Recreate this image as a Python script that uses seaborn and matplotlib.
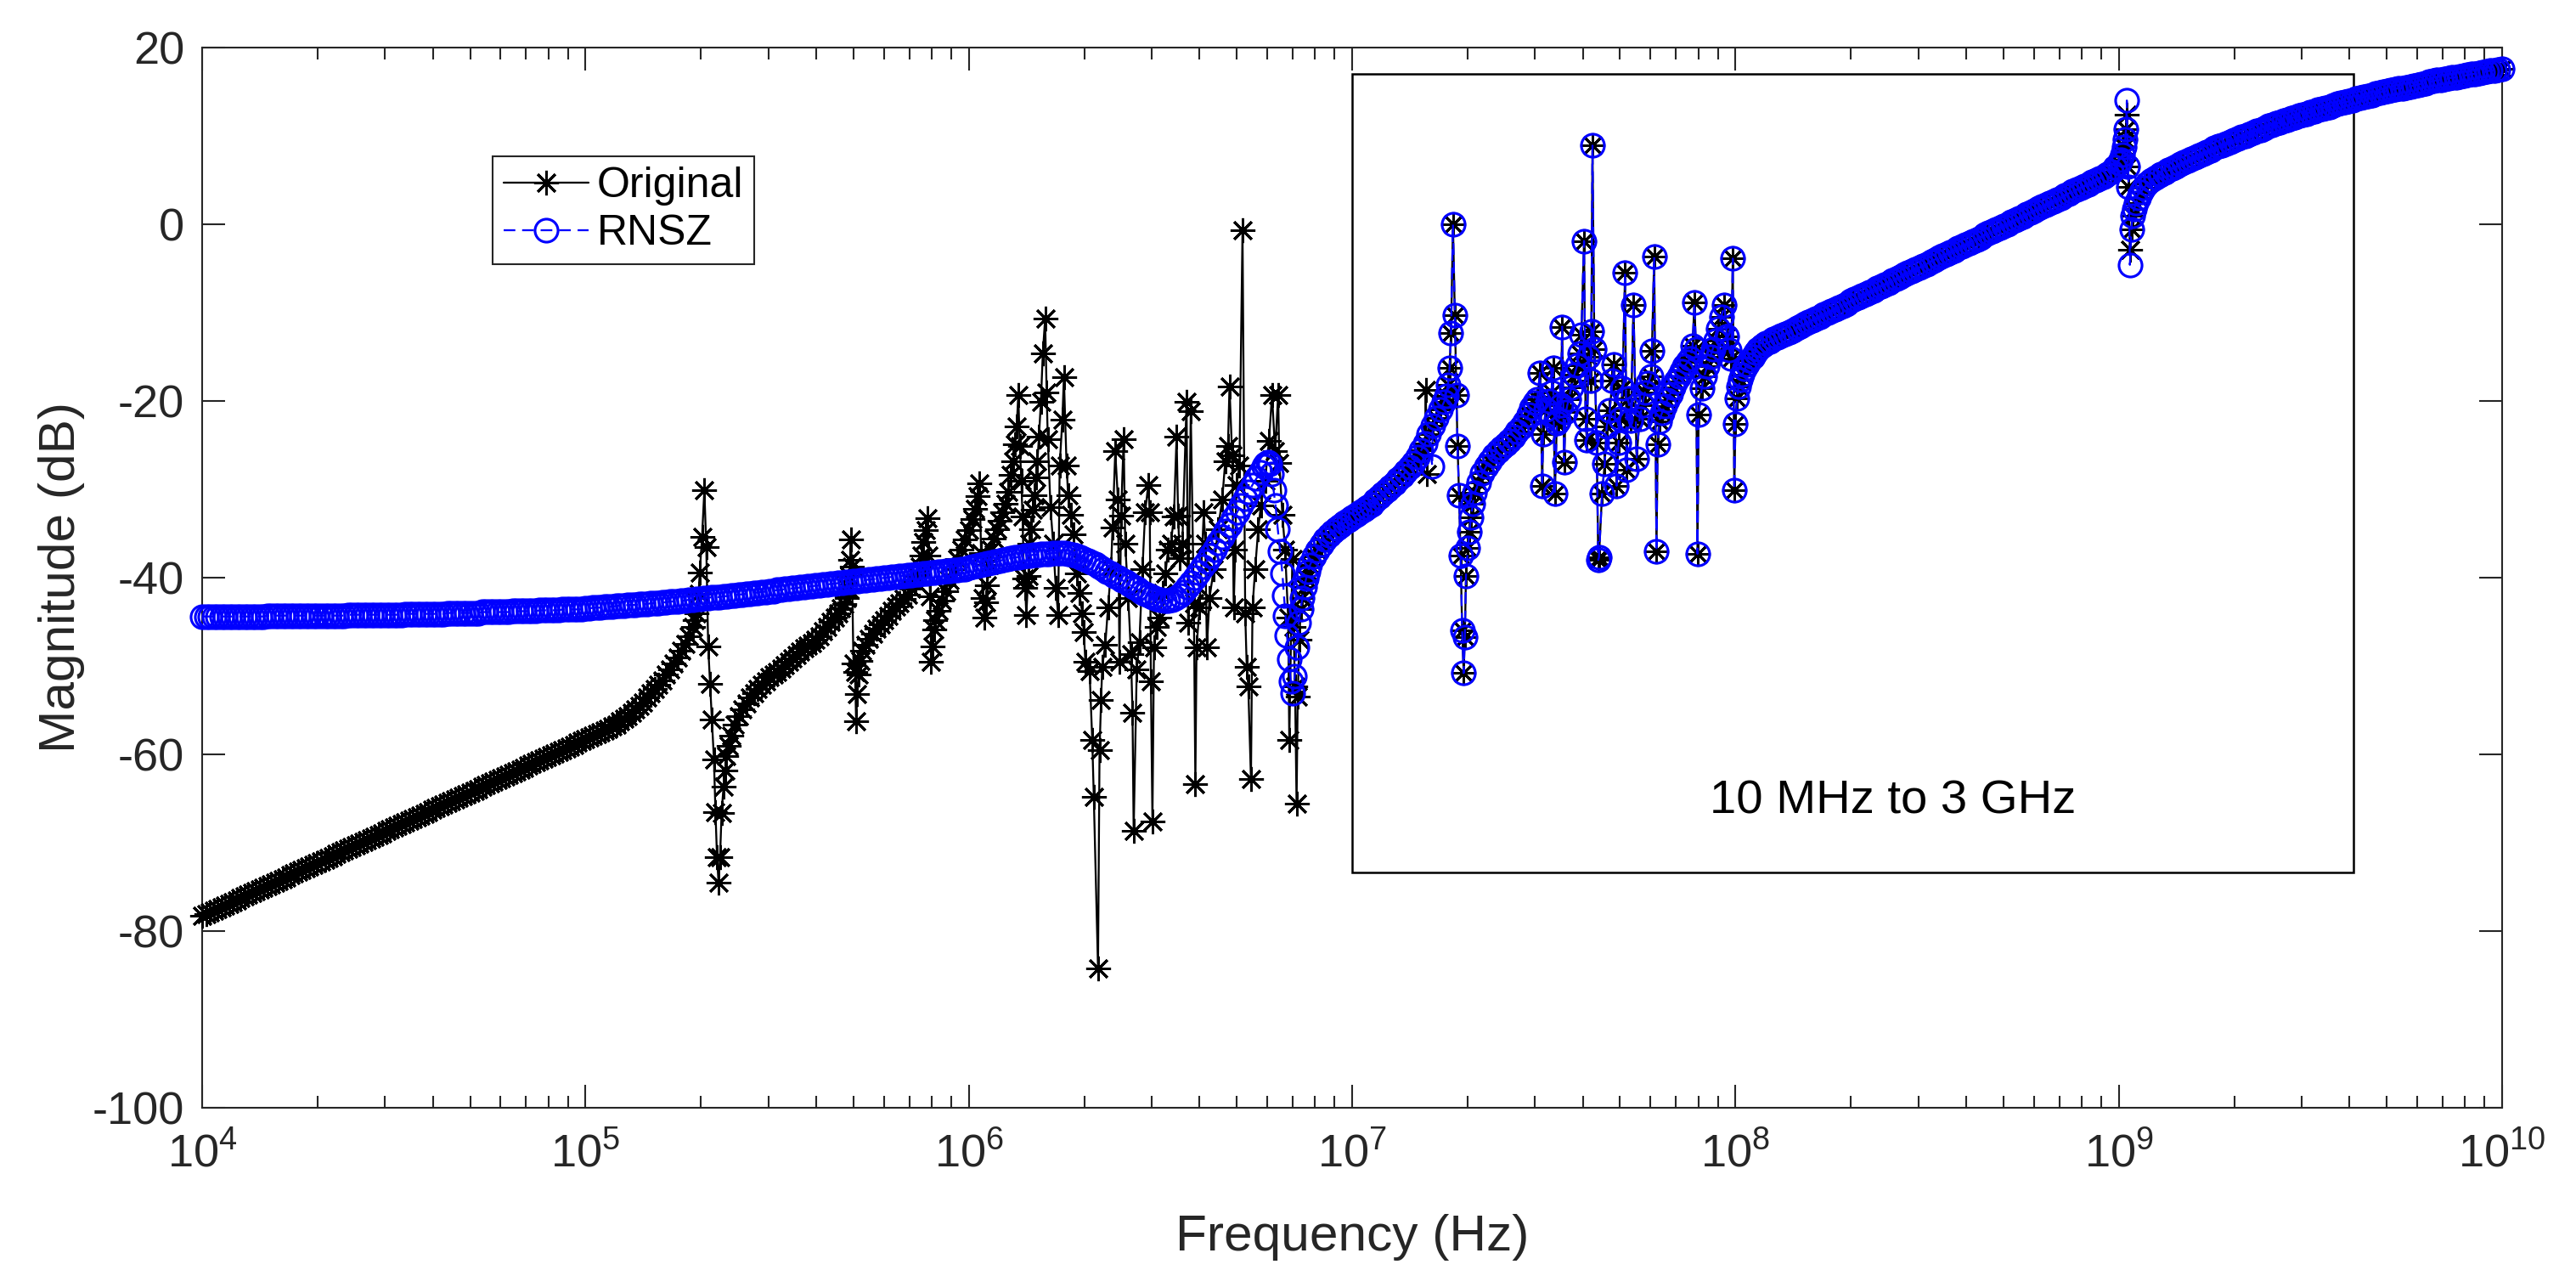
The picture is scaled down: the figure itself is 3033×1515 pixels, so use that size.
import numpy as np
import pandas as pd
import matplotlib
matplotlib.use("Agg")
import matplotlib.pyplot as plt
import seaborn as sns
from matplotlib.patches import Rectangle
from matplotlib.lines import Line2D

# ---------------- data: (log10 frequency [Hz], magnitude [dB]) ----------------
original_lowband = [
    (4.00,-78.3),(4.01,-78.1),(4.02,-77.9),(4.03,-77.7),(4.04,-77.5),(4.05,-77.3),(4.06,-77.1),(4.07,-76.9),(4.08,-76.7),(4.09,-76.5),
    (4.10,-76.3),(4.11,-76.1),(4.12,-75.9),(4.13,-75.7),(4.14,-75.5),(4.15,-75.3),(4.16,-75.1),(4.17,-74.9),(4.18,-74.7),(4.19,-74.5),
    (4.20,-74.3),(4.21,-74.1),(4.22,-73.9),(4.23,-73.7),(4.24,-73.5),(4.25,-73.3),(4.26,-73.1),(4.27,-72.9),(4.28,-72.7),(4.29,-72.5),
    (4.30,-72.3),(4.31,-72.1),(4.32,-71.9),(4.33,-71.7),(4.34,-71.5),(4.35,-71.3),(4.36,-71.1),(4.37,-70.9),(4.38,-70.7),(4.39,-70.5),
    (4.40,-70.3),(4.41,-70.1),(4.42,-69.9),(4.43,-69.7),(4.44,-69.5),(4.45,-69.3),(4.46,-69.1),(4.47,-68.9),(4.48,-68.7),(4.49,-68.5),
    (4.50,-68.3),(4.51,-68.1),(4.52,-67.9),(4.53,-67.7),(4.54,-67.5),(4.55,-67.3),(4.56,-67.1),(4.57,-66.9),(4.58,-66.7),(4.59,-66.5),
    (4.60,-66.3),(4.61,-66.1),(4.62,-65.9),(4.63,-65.7),(4.64,-65.5),(4.65,-65.3),(4.66,-65.1),(4.67,-64.9),(4.68,-64.7),(4.69,-64.5),
    (4.70,-64.3),(4.71,-64.1),(4.72,-63.9),(4.73,-63.7),(4.74,-63.5),(4.75,-63.3),(4.76,-63.1),(4.77,-62.9),(4.78,-62.7),(4.79,-62.5),
    (4.80,-62.3),(4.81,-62.1),(4.82,-61.9),(4.83,-61.7),(4.84,-61.5),(4.85,-61.3),(4.86,-61.1),(4.87,-60.9),(4.88,-60.7),(4.89,-60.5),
    (4.90,-60.3),(4.91,-60.1),(4.92,-59.9),(4.93,-59.7),(4.94,-59.5),(4.95,-59.3),(4.96,-59.1),(4.97,-58.9),(4.98,-58.7),(4.99,-58.5),
    (5.00,-58.3),(5.01,-58.1),(5.02,-57.9),(5.03,-57.7),(5.04,-57.5),(5.05,-57.3),(5.06,-57.1),(5.07,-56.8),(5.08,-56.6),(5.09,-56.3),
    (5.10,-56.0),(5.11,-55.7),(5.12,-55.3),(5.13,-54.9),(5.14,-54.5),(5.15,-54.1),(5.16,-53.6),(5.17,-53.1),(5.18,-52.6),(5.19,-52.1),
    (5.20,-51.6),(5.21,-51.0),(5.22,-50.4),(5.23,-49.7),(5.24,-49.0),(5.25,-48.3),(5.26,-47.5),(5.27,-46.6),(5.28,-45.6),(5.285,-44.8),
    (5.29,-44.0),(5.295,-41.8),(5.298,-39.4),(5.304,-35.4),(5.310,-30.1),(5.315,-36.5),(5.320,-47.8),(5.325,-52.0),(5.330,-56.1),(5.335,-60.6),
    (5.339,-66.5),(5.343,-71.6),(5.347,-74.5),(5.351,-71.6),(5.355,-66.6),(5.360,-63.7),(5.364,-61.8),(5.368,-60.2),(5.373,-59.0),(5.38,-57.9),
    (5.39,-56.6),(5.40,-55.7),(5.41,-54.9),(5.42,-54.2),(5.43,-53.6),(5.44,-53.1),(5.45,-52.6),(5.46,-52.1),(5.47,-51.7),(5.48,-51.3),
    (5.49,-51.0),(5.50,-50.7),(5.51,-50.3),(5.52,-49.9),(5.53,-49.5),(5.54,-49.1),(5.55,-48.8),(5.56,-48.4),(5.57,-48.0),(5.58,-47.7),
    (5.59,-47.4),(5.60,-47.0),(5.61,-46.6),(5.62,-46.1),(5.63,-45.6),(5.64,-45.0),(5.65,-44.5),(5.66,-44.0),(5.667,-43.5),(5.674,-43.0),
    (5.681,-42.3),(5.685,-41.3),(5.688,-39.8),(5.690,-38.0),(5.692,-35.7),(5.695,-38.8),(5.699,-49.7),(5.703,-50.7),(5.706,-56.3),(5.709,-53.2),
    (5.712,-51.0),(5.716,-49.4),(5.722,-48.3),(5.73,-47.6),(5.74,-46.9),(5.75,-46.4),(5.76,-45.8),(5.77,-45.3),(5.78,-44.8),(5.79,-44.3),
    (5.80,-43.8),(5.81,-43.3),(5.82,-42.9),(5.83,-42.4),(5.84,-41.9),(5.85,-41.3),(5.86,-40.5),(5.866,-39.8),(5.872,-38.8),(5.877,-37.5),
    (5.882,-36.0),(5.887,-34.6),(5.891,-33.3),(5.895,-37.5),(5.899,-42.1),(5.902,-49.5),(5.906,-47.8),(5.909,-45.9),(5.913,-44.8),(5.92,-43.8),
    (5.93,-42.6),(5.94,-41.5),(5.95,-40.3),(5.96,-39.0),(5.97,-37.9),(5.98,-36.8),(5.99,-35.7),(6.00,-34.6),(6.01,-33.4),(6.017,-32.2),
    (6.023,-30.8),(6.028,-29.3),(6.032,-37.2),(6.036,-42.3),(6.040,-44.5),(6.044,-42.8),(6.048,-40.9),(6.053,-38.6),(6.058,-36.8),(6.065,-35.6),
    (6.073,-34.5),(6.080,-33.6),(6.088,-32.6),(6.095,-31.6),(6.103,-30.3),(6.110,-28.4),(6.115,-26.8),(6.120,-24.9),(6.125,-22.9),(6.129,-19.3),
    (6.133,-25.1),(6.137,-29.0),(6.140,-33.1),(6.144,-40.1),(6.147,-41.2),(6.150,-44.2),(6.155,-39.8),(6.159,-36.2),(6.163,-34.5),(6.167,-32.3),
    (6.171,-30.7),(6.175,-28.7),(6.179,-26.8),(6.183,-24.0),(6.188,-20.1),(6.193,-14.6),(6.199,-10.7),(6.203,-19.0),(6.206,-24.3),(6.213,-32.0),
    (6.220,-36.2),(6.227,-41.2),(6.233,-44.2),(6.237,-27.3),(6.244,-22.1),(6.248,-17.3),(6.255,-27.3),(6.259,-30.7),(6.266,-32.9),(6.273,-35.1),
    (6.281,-39.5),(6.288,-41.7),(6.296,-44.0),(6.300,-46.2),(6.304,-49.5),(6.315,-50.6),(6.322,-58.4),(6.326,-64.8),(6.337,-84.2),(6.341,-59.5),
    (6.345,-53.9),(6.348,-50.1),(6.356,-47.6),(6.363,-43.4),(6.371,-39.0),(6.375,-34.3),(6.382,-25.7),(6.389,-31.2),(6.393,-49.5),(6.397,-33.0),
    (6.404,-24.3),(6.408,-36.2),(6.416,-42.3),(6.423,-48.7),(6.427,-55.3),(6.430,-68.7),(6.438,-50.4),(6.445,-47.3),(6.453,-39.0),(6.460,-32.6),
    (6.468,-29.5),(6.472,-32.6),(6.475,-51.7),(6.479,-67.6),(6.483,-47.9),(6.490,-45.6),(6.498,-44.5),(6.505,-41.7),(6.513,-39.5),(6.520,-36.8),
    (6.527,-36.2),(6.535,-33.1),(6.542,-24.0),(6.546,-33.0),(6.550,-37.8),(6.557,-36.2),(6.568,-20.1),(6.572,-45.1),(6.579,-21.2),(6.587,-42.9),
    (6.591,-63.4),(6.594,-47.9),(6.602,-43.4),(6.613,-32.6),(6.617,-36.2),(6.621,-47.9),(6.628,-42.3),(6.639,-39.0),(6.650,-34.5),(6.661,-31.2),
    (6.669,-26.8),(6.676,-25.1),(6.680,-18.4),(6.687,-26.2),(6.691,-43.4),(6.695,-36.8),(6.698,-29.5),(6.706,-27.3),(6.714,-0.7),(6.721,-44.0),
    (6.725,-50.1),(6.729,-52.3),(6.736,-62.8),(6.740,-43.4),(6.747,-39.0),(6.755,-34.5),(6.762,-31.8),(6.773,-29.0),(6.783,-24.5),(6.791,-19.3),
    (6.799,-25.7),(6.807,-19.3),(6.810,-27.0),(6.818,-32.9),(6.825,-36.8),(6.833,-44.5),(6.836,-58.4),(6.844,-37.9),(6.847,-45.6),(6.851,-52.3),
    (6.855,-65.6),(6.858,-53.5),(6.862,-47.0),
]

rnsz_lowband = [
    (4.00,-44.4),(4.01,-44.4),(4.02,-44.4),(4.03,-44.4),(4.04,-44.4),(4.05,-44.4),(4.06,-44.4),(4.07,-44.4),(4.08,-44.4),(4.09,-44.4),
    (4.10,-44.4),(4.11,-44.4),(4.12,-44.4),(4.13,-44.4),(4.14,-44.4),(4.15,-44.4),(4.16,-44.4),(4.17,-44.3),(4.18,-44.3),(4.19,-44.3),
    (4.20,-44.3),(4.21,-44.3),(4.22,-44.3),(4.23,-44.3),(4.24,-44.3),(4.25,-44.3),(4.26,-44.3),(4.27,-44.3),(4.28,-44.3),(4.29,-44.3),
    (4.30,-44.3),(4.31,-44.3),(4.32,-44.3),(4.33,-44.3),(4.34,-44.3),(4.35,-44.3),(4.36,-44.3),(4.37,-44.3),(4.38,-44.2),(4.39,-44.2),
    (4.40,-44.2),(4.41,-44.2),(4.42,-44.2),(4.43,-44.2),(4.44,-44.2),(4.45,-44.2),(4.46,-44.2),(4.47,-44.2),(4.48,-44.2),(4.49,-44.2),
    (4.50,-44.2),(4.51,-44.2),(4.52,-44.2),(4.53,-44.1),(4.54,-44.1),(4.55,-44.1),(4.56,-44.1),(4.57,-44.1),(4.58,-44.1),(4.59,-44.1),
    (4.60,-44.1),(4.61,-44.1),(4.62,-44.1),(4.63,-44.1),(4.64,-44.0),(4.65,-44.0),(4.66,-44.0),(4.67,-44.0),(4.68,-44.0),(4.69,-44.0),
    (4.70,-44.0),(4.71,-44.0),(4.72,-44.0),(4.73,-43.9),(4.74,-43.9),(4.75,-43.9),(4.76,-43.9),(4.77,-43.9),(4.78,-43.9),(4.79,-43.9),
    (4.80,-43.9),(4.81,-43.8),(4.82,-43.8),(4.83,-43.8),(4.84,-43.8),(4.85,-43.8),(4.86,-43.8),(4.87,-43.8),(4.88,-43.7),(4.89,-43.7),
    (4.90,-43.7),(4.91,-43.7),(4.92,-43.7),(4.93,-43.7),(4.94,-43.6),(4.95,-43.6),(4.96,-43.6),(4.97,-43.6),(4.98,-43.6),(4.99,-43.6),
    (5.00,-43.5),(5.01,-43.5),(5.02,-43.4),(5.03,-43.4),(5.04,-43.4),(5.05,-43.3),(5.06,-43.3),(5.07,-43.3),(5.08,-43.2),(5.09,-43.2),
    (5.10,-43.2),(5.11,-43.1),(5.12,-43.1),(5.13,-43.1),(5.14,-43.0),(5.15,-43.0),(5.16,-43.0),(5.17,-42.9),(5.18,-42.9),(5.19,-42.9),
    (5.20,-42.8),(5.21,-42.8),(5.22,-42.7),(5.23,-42.7),(5.24,-42.7),(5.25,-42.6),(5.26,-42.6),(5.27,-42.5),(5.28,-42.5),(5.29,-42.4),
    (5.30,-42.4),(5.31,-42.3),(5.32,-42.3),(5.33,-42.2),(5.34,-42.2),(5.35,-42.2),(5.36,-42.1),(5.37,-42.1),(5.38,-42.0),(5.39,-42.0),
    (5.40,-41.9),(5.41,-41.9),(5.42,-41.8),(5.43,-41.8),(5.44,-41.7),(5.45,-41.7),(5.46,-41.6),(5.47,-41.6),(5.48,-41.5),(5.49,-41.5),
    (5.50,-41.4),(5.51,-41.4),(5.52,-41.3),(5.53,-41.3),(5.54,-41.2),(5.55,-41.2),(5.56,-41.1),(5.57,-41.1),(5.58,-41.0),(5.59,-41.0),
    (5.60,-40.9),(5.61,-40.9),(5.62,-40.8),(5.63,-40.8),(5.64,-40.7),(5.65,-40.7),(5.66,-40.6),(5.67,-40.6),(5.68,-40.5),(5.69,-40.5),
    (5.70,-40.4),(5.71,-40.4),(5.72,-40.3),(5.73,-40.3),(5.74,-40.2),(5.75,-40.2),(5.76,-40.1),(5.77,-40.1),(5.78,-40.0),(5.79,-40.0),
    (5.80,-39.9),(5.81,-39.9),(5.82,-39.8),(5.83,-39.8),(5.84,-39.7),(5.85,-39.7),(5.86,-39.6),(5.87,-39.6),(5.88,-39.5),(5.89,-39.5),
    (5.90,-39.4),(5.91,-39.4),(5.92,-39.3),(5.93,-39.3),(5.94,-39.2),(5.95,-39.2),(5.96,-39.1),(5.97,-39.1),(5.98,-39.0),(5.99,-39.0),
    (6.00,-38.9),(6.01,-38.8),(6.02,-38.7),(6.03,-38.6),(6.04,-38.5),(6.05,-38.4),(6.06,-38.3),(6.07,-38.2),(6.08,-38.1),(6.09,-38.0),
    (6.10,-37.9),(6.11,-37.8),(6.12,-37.7),(6.13,-37.7),(6.14,-37.6),(6.15,-37.5),(6.16,-37.5),(6.17,-37.4),(6.18,-37.4),(6.19,-37.3),
    (6.20,-37.3),(6.21,-37.3),(6.22,-37.2),(6.23,-37.2),(6.24,-37.2),(6.25,-37.2),(6.26,-37.3),(6.27,-37.4),(6.28,-37.5),(6.29,-37.7),
    (6.30,-37.9),(6.31,-38.1),(6.32,-38.3),(6.33,-38.5),(6.34,-38.8),(6.35,-39.0),(6.36,-39.3),(6.37,-39.5),(6.38,-39.8),(6.39,-40.0),
    (6.40,-40.3),(6.41,-40.5),(6.42,-40.8),(6.43,-41.1),(6.44,-41.3),(6.45,-41.6),(6.46,-41.8),(6.47,-42.0),(6.48,-42.2),(6.49,-42.4),
    (6.50,-42.5),(6.51,-42.6),(6.52,-42.6),(6.53,-42.5),(6.54,-42.3),(6.55,-42.0),(6.56,-41.6),(6.57,-41.1),(6.58,-40.6),(6.59,-40.0),
    (6.60,-39.4),(6.61,-38.8),(6.62,-38.2),(6.63,-37.5),(6.64,-36.8),(6.65,-36.1),(6.66,-35.4),(6.67,-34.7),(6.68,-34.0),(6.69,-33.3),
    (6.70,-32.6),(6.71,-31.8),(6.72,-31.1),(6.73,-30.3),(6.74,-29.5),(6.75,-28.8),(6.76,-28.1),(6.77,-27.4),(6.775,-27.1),(6.78,-26.9),
    (6.785,-27.1),(6.79,-28.3),(6.795,-30.1),(6.800,-31.8),(6.806,-34.5),(6.812,-37.0),(6.818,-39.5),(6.822,-42.0),(6.826,-44.3),(6.830,-46.5),
    (6.835,-49.2),(6.840,-51.7),(6.845,-53.1),(6.850,-51.2),(6.855,-47.9),(6.860,-45.1),
]

# above ~7.3 MHz both curves coincide
shared_highband = [
    (6.866,-43.6),(6.870,-42.3),(6.875,-41.1),(6.880,-40.1),(6.885,-39.3),(6.89,-38.6),(6.90,-37.6),(6.91,-36.9),(6.92,-36.3),(6.93,-35.7),
    (6.94,-35.2),(6.95,-34.8),(6.96,-34.4),(6.97,-34.1),(6.98,-33.8),(6.99,-33.5),(7.00,-33.2),(7.01,-32.9),(7.02,-32.6),(7.03,-32.3),
    (7.04,-32.0),(7.05,-31.7),(7.06,-31.3),(7.07,-30.9),(7.08,-30.5),(7.09,-30.1),(7.10,-29.7),(7.11,-29.3),(7.12,-28.9),(7.13,-28.5),
    (7.14,-28.0),(7.15,-27.5),(7.16,-27.0),(7.17,-26.4),(7.18,-25.6),(7.19,-24.8),(7.20,-23.8),(7.21,-22.8),(7.22,-21.9),(7.23,-21.0),
    (7.24,-20.1),(7.245,-19.4),(7.25,-18.2),(7.254,-16.3),(7.258,-12.3),(7.263,0.0),(7.268,-10.3),(7.272,-19.3),(7.275,-25.1),(7.279,-30.7),
    (7.283,-37.5),(7.287,-46.0),(7.291,-50.8),(7.294,-46.7),(7.297,-39.8),(7.302,-36.6),(7.306,-34.8),(7.310,-33.2),(7.315,-31.6),(7.32,-30.4),
    (7.33,-29.2),(7.34,-28.2),(7.35,-27.4),(7.36,-26.8),(7.37,-26.2),(7.38,-25.7),(7.39,-25.3),(7.40,-24.9),(7.41,-24.5),(7.42,-24.0),
    (7.43,-23.5),(7.44,-23.0),(7.45,-22.4),(7.461,-21.5),(7.468,-20.8),(7.476,-20.2),(7.483,-19.8),(7.490,-16.8),(7.496,-29.6),(7.498,-23.8),
    (7.505,-21.0),(7.513,-20.0),(7.520,-19.0),(7.524,-16.3),(7.529,-30.5),(7.534,-22.5),(7.539,-22.2),(7.544,-20.5),(7.548,-11.6),(7.553,-26.9),
    (7.557,-21.3),(7.565,-19.8),(7.572,-18.5),(7.580,-17.0),(7.587,-16.0),(7.593,-14.6),(7.598,-12.5),(7.605,-1.9),(7.609,-22.0),(7.612,-24.4),
    (7.617,-15.0),(7.622,-17.7),(7.624,-12.1),(7.627,8.9),(7.632,-14.1),(7.638,-24.7),(7.642,-38.0),(7.644,-37.7),(7.652,-30.5),(7.659,-27.1),
    (7.664,-22.9),(7.672,-21.1),(7.679,-17.7),(7.683,-15.9),(7.690,-29.6),(7.695,-24.7),(7.700,-22.0),(7.705,-18.6),(7.712,-5.5),(7.716,-27.8),
    (7.720,-19.7),(7.727,-22.2),(7.734,-9.1),(7.742,-26.5),(7.750,-22.0),(7.757,-20.5),(7.764,-19.0),(7.772,-18.0),(7.779,-17.2),(7.782,-14.3),
    (7.788,-3.7),(7.794,-37.0),(7.797,-24.9),(7.801,-22.3),(7.808,-21.4),(7.815,-20.6),(7.822,-19.9),(7.83,-19.2),(7.838,-18.5),(7.845,-17.8),
    (7.853,-17.2),(7.86,-16.6),(7.867,-16.1),(7.875,-15.6),(7.882,-15.2),(7.888,-13.8),(7.893,-8.9),(7.897,-14.1),(7.901,-37.3),(7.904,-21.5),
    (7.912,-18.6),(7.919,-17.2),(7.926,-16.1),(7.934,-15.0),(7.941,-14.1),(7.949,-13.2),(7.956,-11.8),(7.963,-10.5),(7.971,-9.1),(7.978,-12.7),
    (7.984,-14.2),(7.989,-15.2),(7.993,-3.9),(7.997,-30.1),(8.000,-22.6),(8.004,-19.7),(8.008,-18.4),(8.013,-17.6),(8.018,-17.0),(8.024,-16.4),
    (8.030,-15.9),(8.037,-15.4),(8.045,-15.0),(8.052,-14.5),(8.059,-14.1),(8.07,-13.8),(8.08,-13.5),(8.09,-13.3),(8.10,-13.0),(8.11,-12.8),
    (8.12,-12.6),(8.13,-12.4),(8.14,-12.2),(8.15,-12.0),(8.16,-11.7),(8.17,-11.5),(8.18,-11.3),(8.19,-11.1),(8.20,-10.9),(8.21,-10.7),
    (8.22,-10.5),(8.23,-10.2),(8.24,-10.0),(8.25,-9.8),(8.26,-9.6),(8.27,-9.4),(8.28,-9.2),(8.29,-9.0),(8.30,-8.7),(8.31,-8.5),
    (8.32,-8.3),(8.33,-8.1),(8.34,-7.9),(8.35,-7.7),(8.36,-7.5),(8.37,-7.2),(8.38,-7.0),(8.39,-6.8),(8.40,-6.6),(8.41,-6.4),
    (8.42,-6.2),(8.43,-6.0),(8.44,-5.7),(8.45,-5.5),(8.46,-5.3),(8.47,-5.1),(8.48,-4.9),(8.49,-4.7),(8.50,-4.5),(8.51,-4.2),
    (8.52,-4.0),(8.53,-3.8),(8.54,-3.6),(8.55,-3.4),(8.56,-3.2),(8.57,-3.0),(8.58,-2.7),(8.59,-2.5),(8.60,-2.3),(8.61,-2.1),
    (8.62,-1.9),(8.63,-1.7),(8.64,-1.5),(8.65,-1.2),(8.66,-1.0),(8.67,-0.8),(8.68,-0.6),(8.69,-0.4),(8.70,-0.2),(8.71,0.0),
    (8.72,0.3),(8.73,0.5),(8.74,0.7),(8.75,0.9),(8.76,1.1),(8.77,1.3),(8.78,1.5),(8.79,1.8),(8.80,2.0),(8.81,2.2),
    (8.82,2.4),(8.83,2.6),(8.84,2.8),(8.85,3.0),(8.86,3.3),(8.87,3.5),(8.88,3.7),(8.89,3.9),(8.90,4.1),(8.91,4.3),
    (8.92,4.5),(8.93,4.8),(8.94,5.0),(8.95,5.2),(8.96,5.4),(8.97,5.7),(8.98,6.0),(8.99,6.4),(9.00,6.9),(9.005,7.3),
    (9.010,7.9),(9.014,8.7),(9.017,9.6),(9.019,10.8),(9.024,6.5),(9.026,4.2),(9.033,-0.6),(9.036,1.0),(9.040,1.7),(9.045,2.4),
    (9.051,3.0),(9.058,3.6),(9.065,4.1),(9.075,4.6),(9.085,5.0),(9.095,5.3),(9.107,5.6),(9.11,5.7),(9.12,5.9),(9.13,6.1),
    (9.14,6.3),(9.15,6.5),(9.16,6.8),(9.17,7.0),(9.18,7.2),(9.19,7.4),(9.20,7.6),(9.21,7.8),(9.22,8.0),(9.23,8.2),
    (9.24,8.4),(9.25,8.6),(9.26,8.8),(9.27,8.9),(9.28,9.1),(9.29,9.3),(9.30,9.5),(9.31,9.7),(9.32,9.9),(9.33,10.0),
    (9.34,10.2),(9.35,10.4),(9.36,10.6),(9.37,10.7),(9.38,10.9),(9.39,11.1),(9.40,11.2),(9.41,11.4),(9.42,11.5),(9.43,11.7),
    (9.44,11.8),(9.45,12.0),(9.46,12.1),(9.47,12.3),(9.48,12.4),(9.49,12.5),(9.50,12.7),(9.51,12.8),(9.52,13.0),(9.53,13.1),
    (9.54,13.2),(9.55,13.3),(9.56,13.5),(9.57,13.6),(9.58,13.7),(9.59,13.8),(9.60,13.9),(9.61,14.0),(9.62,14.2),(9.63,14.3),
    (9.64,14.4),(9.65,14.5),(9.66,14.6),(9.67,14.8),(9.68,14.9),(9.69,15.0),(9.70,15.1),(9.71,15.2),(9.72,15.3),(9.73,15.4),
    (9.74,15.4),(9.75,15.5),(9.76,15.6),(9.77,15.7),(9.78,15.8),(9.79,15.9),(9.80,16.0),(9.81,16.1),(9.82,16.2),(9.83,16.3),
    (9.84,16.3),(9.85,16.4),(9.86,16.5),(9.87,16.6),(9.88,16.6),(9.89,16.7),(9.90,16.8),(9.91,16.9),(9.92,17.0),(9.93,17.0),
    (9.94,17.1),(9.95,17.2),(9.96,17.3),(9.97,17.4),(9.98,17.4),(9.99,17.5),(10.00,17.6),
]

# small places where the two curves differ inside the high band
original_only_highband = [(7.192,-18.8),(7.196,-28.3),(9.021,12.4),(9.029,-2.9)]
rnsz_only_highband = [(7.209,-27.4),(9.021,14.0),(9.029,-4.6)]

series_names = ["Original", "RNSZ"]
box_freq = [1e7, 4.1e9]
box_db = [-73.4, 17.0]
note_text = "10 MHz to 3 GHz"
note_freq = 10 ** 8.41
note_db = -65.3
x_limits = [1e4, 1e10]
y_limits = [-100, 20]
y_ticks = [-100, -80, -60, -40, -20, 0, 20]


def to_frame(*parts):
    pts = sorted(p for part in parts for p in part)
    logf = np.array([p[0] for p in pts])
    mag = np.array([p[1] for p in pts])
    return pd.DataFrame({"freq": 10.0 ** logf, "mag": mag})


orig_df = to_frame(original_lowband, shared_highband, original_only_highband)
rnsz_df = to_frame(rnsz_lowband, shared_highband, rnsz_only_highband)

# ---------------- style ----------------
sns.set_theme(style="ticks")
plt.rcParams["font.family"] = ["Liberation Sans", "DejaVu Sans"]
plt.rcParams["mathtext.fontset"] = "custom"
plt.rcParams["mathtext.rm"] = "Liberation Sans"
plt.rcParams["mathtext.it"] = "Liberation Sans:italic"
plt.rcParams["mathtext.bf"] = "Liberation Sans:bold"
plt.rcParams["axes.unicode_minus"] = False

dark = "#262626"
fig = plt.figure(figsize=(3033 / 300, 1515 / 300), dpi=300)
ax = fig.add_axes([0.0785, 0.1393, 0.8928, 0.8238])

star = (8, 2, 0)
star_style = dict(marker=star, markersize=7, markeredgecolor="black", markeredgewidth=0.7)
circle_style = dict(marker="o", markersize=6.5, markerfacecolor="none",
                    markeredgecolor="blue", markeredgewidth=0.75)

sns.lineplot(data=orig_df, x="freq", y="mag", ax=ax, color="black", linewidth=0.55,
             estimator=None, errorbar=None, sort=False, legend=False, clip_on=False,
             zorder=3, **star_style)
sns.lineplot(data=rnsz_df, x="freq", y="mag", ax=ax, color="blue", linewidth=0.55,
             linestyle=(0, (6, 3.5)), estimator=None, errorbar=None, sort=False,
             legend=False, clip_on=False, zorder=4, **circle_style)

ax.set_xscale("log")
ax.set_xlim(x_limits)
ax.set_ylim(y_limits)
ax.set_yticks(y_ticks)
ax.set_yticklabels([str(v) for v in y_ticks])

ax.add_patch(Rectangle((box_freq[0], box_db[0]), box_freq[1] - box_freq[0], box_db[1] - box_db[0],
                       fill=False, edgecolor="black", linewidth=0.6, zorder=2))
ax.text(note_freq, note_db, note_text, ha="center", va="center", fontsize=13.5, color="black")

for sp in ax.spines.values():
    sp.set_visible(True)
    sp.set_linewidth(0.5)
    sp.set_color(dark)

ax.tick_params(which="both", direction="in", top=True, right=True, color=dark,
               labelcolor=dark, width=0.5)
ax.tick_params(which="major", length=6.5, labelsize=13)
ax.tick_params(which="minor", length=3.3)
ax.tick_params(axis="y", which="major", pad=5)
ax.tick_params(axis="x", which="major", pad=7)

ax.set_xlabel("Frequency (Hz)", fontsize=14.5, color=dark)
ax.set_ylabel("Magnitude (dB)", fontsize=14.5, color=dark)
ax.xaxis.set_label_coords(0.5, -0.100)
ax.yaxis.set_label_coords(-0.051, 0.5)

handles = [
    Line2D([], [], color="black", linewidth=0.55, **star_style),
    Line2D([], [], color="blue", linewidth=0.55, linestyle=(0, (6, 3.5)), **circle_style),
]
leg = ax.legend(handles, series_names, loc="upper left", bbox_to_anchor=(0.1263, 0.8974),
                borderaxespad=0, frameon=True, fancybox=False, edgecolor=dark, framealpha=1,
                fontsize=12, handlelength=2.0, handletextpad=0.2, labelspacing=0.2, borderpad=0.25)
leg.get_frame().set_linewidth(0.5)
for t in leg.get_texts():
    t.set_color("black")

fig.savefig("out.png", dpi=300, facecolor="white")
